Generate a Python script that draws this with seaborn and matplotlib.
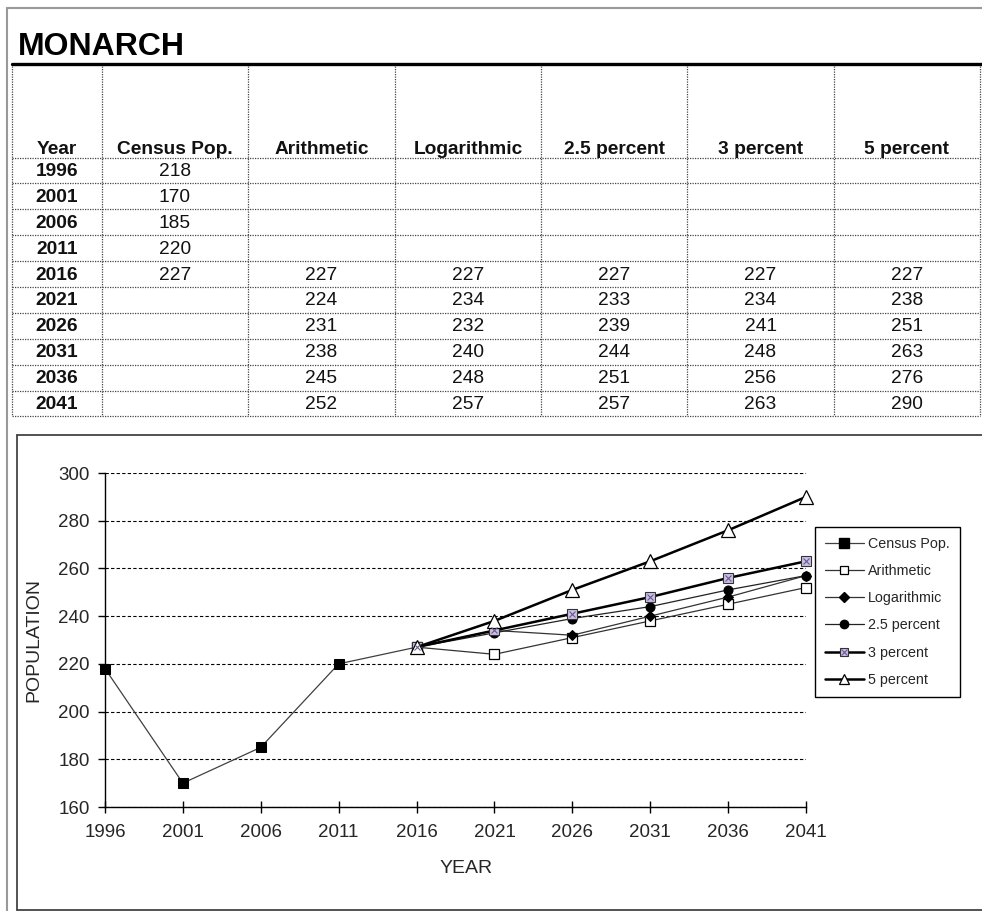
import matplotlib.pyplot as plt
import numpy as np
import pandas as pd
import seaborn as sns
from matplotlib.lines import Line2D
from matplotlib.legend_handler import HandlerTuple

years = [1996, 2001, 2006, 2011, 2016, 2021, 2026, 2031, 2036, 2041]
census_years = years[:5]
proj_years = years[4:]
census = [218, 170, 185, 220, 227]
arithmetic = [227, 224, 231, 238, 245, 252]
logarithmic = [227, 234, 232, 240, 248, 257]
pct_2_5 = [227, 233, 239, 244, 251, 257]
pct_3 = [227, 234, 241, 248, 256, 263]
pct_5 = [227, 238, 251, 263, 276, 290]
series_names = ["Census Pop.", "Arithmetic", "Logarithmic", "2.5 percent", "3 percent", "5 percent"]
y_ticks = [160, 180, 200, 220, 240, 260, 280, 300]

series = {
    "Census Pop.": (census_years, census),
    "Arithmetic": (proj_years, arithmetic),
    "Logarithmic": (proj_years, logarithmic),
    "2.5 percent": (proj_years, pct_2_5),
    "3 percent": (proj_years, pct_3),
    "5 percent": (proj_years, pct_5),
}
df = pd.concat(
    [pd.DataFrame({"year": x, "pop": y, "series": name}) for name, (x, y) in series.items()],
    ignore_index=True,
)

styles = {
    "Census Pop.": dict(color="#404040", lw=0.9, marker="s", markersize=7, markerfacecolor="black", markeredgecolor="black"),
    "Arithmetic": dict(color="#333333", lw=0.9, marker="s", markersize=6.5, markerfacecolor="white", markeredgecolor="black", markeredgewidth=0.9),
    "Logarithmic": dict(color="#333333", lw=0.9, marker="D", markersize=5.5, markerfacecolor="black", markeredgecolor="black"),
    "2.5 percent": dict(color="#222222", lw=0.9, marker="o", markersize=6.5, markerfacecolor="black", markeredgecolor="black"),
    "3 percent": dict(color="black", lw=1.8, marker="s", markersize=6.5, markerfacecolor="#cbbfe6", markeredgecolor="#333333", markeredgewidth=0.8),
    "5 percent": dict(color="black", lw=1.8, marker="^", markersize=10, markerfacecolor="white", markeredgecolor="black", markeredgewidth=0.9),
}
# slightly smaller markers in the legend keys
legend_ms = {"Census Pop.": 6.5, "Arithmetic": 6, "Logarithmic": 5, "2.5 percent": 6, "3 percent": 6, "5 percent": 7.5}

sns.set_theme(style="white")
plt.rcParams["font.family"] = ["Liberation Sans", "DejaVu Sans"]

W, H = 982, 911
fig = plt.figure(figsize=(W / 100, H / 100), dpi=100)


def fx(x):
    return x / W


def fy(y):
    return 1 - y / H


def hline(x0, x1, y, **kw):
    fig.add_artist(Line2D([fx(x0), fx(x1)], [fy(y), fy(y)], transform=fig.transFigure, **kw))


def vline(x, y0, y1, **kw):
    fig.add_artist(Line2D([fx(x), fx(x)], [fy(y0), fy(y1)], transform=fig.transFigure, **kw))


# page frame
hline(7, W, 7.5, color="#999999", lw=1.5)
vline(7, 7.5, H, color="#999999", lw=1.5)

# title and table
fig.text(fx(18), fy(55), "MONARCH", fontsize=23, fontweight="bold", color="black", va="baseline")
hline(12, W, 64, color="black", lw=2.4)

col_x = [12, 102, 248, 395, 541, 687, 834, 980]
row_y = [157.5 + 25.9 * k for k in range(11)]
dot = dict(color="#444444", lw=0.9, ls=(0, (1, 1)))
for x in col_x:
    vline(x, 65.5, row_y[-1], **dot)
for y in row_y:
    hline(col_x[0], col_x[-1], y, **dot)

headers = ["Year"] + series_names
for i, h in enumerate(headers):
    cx = (col_x[i] + col_x[i + 1]) / 2
    fig.text(fx(cx), fy(154), h, fontsize=13.8, fontweight="bold", ha="center", va="baseline", color="#111111")

for r, yr in enumerate(years):
    cy = (row_y[r] + row_y[r + 1]) / 2 + 1
    fig.text(fx(57), fy(cy), str(yr), fontsize=13.8, fontweight="bold", ha="center", va="center", color="#111111")
    for c, name in enumerate(series_names):
        xs, vals = series[name]
        if yr in xs:
            cx = (col_x[c + 1] + col_x[c + 2]) / 2
            fig.text(fx(cx), fy(cy), str(vals[xs.index(yr)]), fontsize=13.8, ha="center", va="center", color="#111111")

# chart frame
hline(17, W, 434.5, color="#444444", lw=1.3)
vline(17, 434.5, 910, color="#444444", lw=1.3)
hline(17, W, 910, color="#444444", lw=1.3)

ax = fig.add_axes([fx(105), fy(807), (806 - 105) / W, (807 - 473) / H])
for name in series_names:
    sns.lineplot(data=df[df.series == name], x="year", y="pop", ax=ax, clip_on=False, zorder=3,
                 label=name, **styles[name])
# cross inside the 3 percent squares
ax.plot(proj_years, pct_3, ls="none", marker="x", markersize=5, color="#6a5a8a", mew=0.8, clip_on=False, zorder=4)

ax.set_xlim(1996, 2041)
ax.set_ylim(160, 300)
ax.set_xticks(years)
ax.set_yticks(y_ticks)
ax.yaxis.grid(True, ls=(0, (3, 2)), color="black", lw=0.8)
ax.xaxis.grid(False)
for s in ["top", "right"]:
    ax.spines[s].set_visible(False)
for s in ["left", "bottom"]:
    ax.spines[s].set_color("black")
    ax.spines[s].set_linewidth(1.0)
ax.tick_params(axis="x", bottom=True, direction="inout", length=9, width=1, color="black", labelsize=13.5, pad=8)
ax.tick_params(axis="y", left=True, direction="out", length=5, width=1, color="black", labelsize=13.5, pad=6)
ax.set_xlabel("YEAR", fontsize=14)
ax.set_ylabel("POPULATION", fontsize=14)
ax.xaxis.set_label_coords((466 - 105) / 701, (807 - 860) / 334)
ax.yaxis.set_label_coords((42 - 105) / 701, 0.5)

# legend
handles = []
for name in series_names:
    h = Line2D([], [], **{**styles[name], "markersize": legend_ms[name]})
    if name == "3 percent":
        h = (h, Line2D([], [], ls="none", marker="x", markersize=4.5, color="#6a5a8a", mew=0.8))
    handles.append(h)
ax.legend(handles, series_names, loc="upper left", bbox_to_anchor=(fx(815), fy(527)),
          bbox_transform=fig.transFigure, borderaxespad=0, fontsize=10.3, frameon=True, fancybox=False,
          edgecolor="black", framealpha=1, handlelength=2.7, handletextpad=0.3,
          labelspacing=0.92, borderpad=0.7, handler_map={tuple: HandlerTuple(ndivide=1)})
ax.get_legend().get_frame().set_linewidth(1.0)

fig.savefig("out.png", dpi=100)
